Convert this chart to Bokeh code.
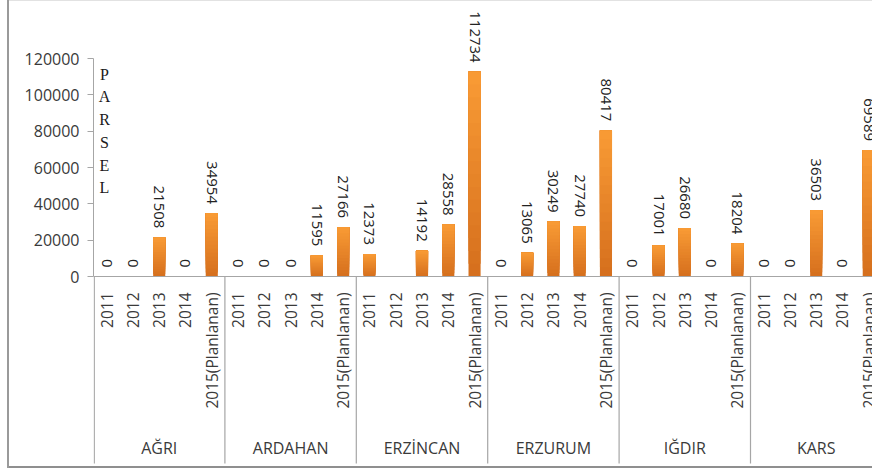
import math
from bokeh.plotting import figure
from bokeh.models import Range1d, FixedTicker, Span, BasicTickFormatter
from bokeh.core.properties import value
from bokeh.embed import file_html
from bokeh.resources import INLINE

# ---- data ----
provinces = ["AĞRI", "ARDAHAN", "ERZİNCAN", "ERZURUM", "IĞDIR", "KARS"]
years = ["2011", "2012", "2013", "2014", "2015(Planlanan)"]
agri = [0, 0, 21508, 0, 34954]
ardahan = [0, 0, 0, 11595, 27166]
erzincan = [12373, None, 14192, 28558, 112734]
erzurum = [0, 13065, 30249, 27740, 80417]
igdir = [0, 17001, 26680, 0, 18204]
kars = [0, 0, 36503, 0, 69589]
y_ticks = [0, 20000, 40000, 60000, 80000, 100000, 120000]
axis_title = "PARSEL"

series = [agri, ardahan, erzincan, erzurum, igdir, kars]

# ---- layout (pixels) ----
W, H = 872, 472
frame_left, frame_top, frame_bottom = 93, 2, 465
zero_px, top_px = 276, 58
upp = y_ticks[-1] / (zero_px - top_px)          # data units per pixel
y_start = -(frame_bottom - zero_px) * upp
y_end = (zero_px - frame_top) * upp
slot_px = 26.28
x_end = (W - frame_left) / slot_px

FONT = value("Open Sans")
TXT = "#3a3a3a"
GRID = "#A6A6A6"

p = figure(width=W, height=H, x_range=Range1d(0, x_end), y_range=Range1d(y_start, y_end),
           output_backend="svg", toolbar_location=None, x_axis_location=None,
           min_border_left=frame_left, min_border_right=0, min_border_top=frame_top,
           min_border_bottom=H - frame_bottom)
p.outline_line_color = None
p.grid.visible = False
p.background_fill_color = None
p.border_fill_color = None
p.styles = {
    "background": ("linear-gradient(#9a9a9a,#9a9a9a) 7px 0px / 2px 468px no-repeat, "
                   "linear-gradient(#8f8f8f,#8f8f8f) 7px 466px / 100% 2px no-repeat, "
                   "linear-gradient(#e2e2e2,#e2e2e2) 7px 0px / 100% 1px no-repeat, white"),
}

ya = p.yaxis[0]
ya.ticker = FixedTicker(ticks=y_ticks)
ya.formatter = BasicTickFormatter(use_scientific=False)
ya.bounds = (y_ticks[0], y_ticks[-1])
ya.axis_line_color = GRID
ya.major_tick_line_color = GRID
ya.major_tick_out = 6
ya.major_tick_in = 0
ya.minor_tick_line_color = None
ya.major_label_text_font = "Open Sans"
ya.major_label_text_font_size = "16px"
ya.major_label_text_color = TXT
ya.major_label_standoff = 8

# ---- positions ----
xs, vals, yr_labels = [], [], []
for gi, s in enumerate(series):
    for yi, v in enumerate(s):
        xs.append(gi * len(years) + yi + 0.5)
        vals.append(v)
        yr_labels.append(years[yi])

# ---- bars with vertical gradient (overlapping layers, no seams) ----
N = 16
top_c = (0xF8, 0x9A, 0x34)
bot_c = (0xD6, 0x70, 0x1E)
bx, bb, bt, bc = [], [], [], []
for k in range(N):
    f = k / (N - 1)
    c = tuple(int(round(bot_c[j] + (top_c[j] - bot_c[j]) * f)) for j in range(3))
    for x, v in zip(xs, vals):
        if not v:
            continue
        bx.append(x)
        bb.append(v * k / N)
        bt.append(v)
        bc.append("#%02x%02x%02x" % c)
p.vbar(x=bx, bottom=bb, top=bt, width=0.46, fill_color=bc, line_color=None)

# ---- x axis line ----
p.add_layout(Span(location=0, dimension="width", line_color=GRID, line_width=1.2))

# ---- value labels ----
lx = [x for x, v in zip(xs, vals) if v is not None]
ly = [v for v in vals if v is not None]
lt = [str(v) for v in vals if v is not None]
p.text(x=lx, y=ly, text=lt, angle=-math.pi / 2, text_align="right", text_baseline="middle",
       y_offset=-9, text_font=FONT, text_font_size="15px", text_color="#222222")

# ---- year labels ----
p.text(x=xs, y=[0] * len(xs), text=yr_labels, angle=math.pi / 2, text_align="right",
       text_baseline="middle", y_offset=16, text_font=FONT, text_font_size="15.5px",
       text_color=TXT)

# ---- group separators ----
sep_x = [gi * len(years) for gi in range(len(provinces) + 1)]
sep_x[0] = 0.03
sep_bottom = -(463 - zero_px) * upp
p.segment(x0=sep_x, y0=[0] * len(sep_x), x1=sep_x, y1=[sep_bottom] * len(sep_x),
          line_color=GRID, line_width=1.2)

# ---- group labels ----
gx = [gi * len(years) + len(years) / 2 for gi in range(len(provinces))]
p.text(x=gx, y=[0] * len(gx), text=provinces, text_align="center", text_baseline="middle",
       y_offset=171, text_font=FONT, text_font_size="16px", text_color=TXT)

# ---- stacked axis title ----
p.text(x=[(104 - frame_left) / slot_px], y=[(zero_px - 65) * upp], text=["\n".join(axis_title)],
       text_align="center", text_baseline="top", text_line_height=1.34,
       text_font=value("Liberation Serif"), text_font_size="16px", text_color="#1a1a1a")

open("out.html", "w").write(file_html(p, INLINE))
